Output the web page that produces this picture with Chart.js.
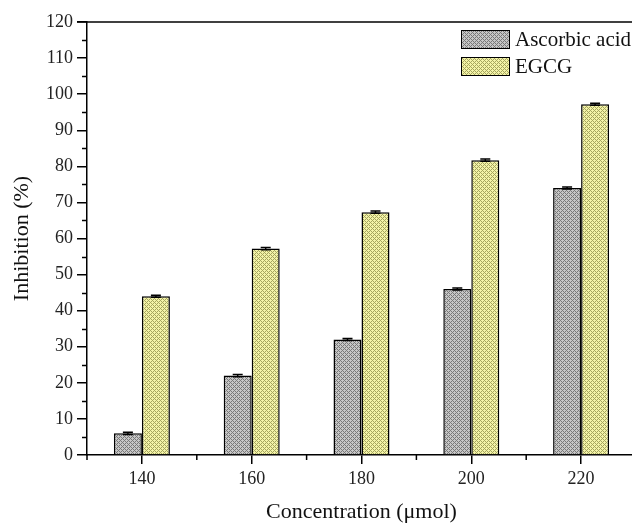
<!DOCTYPE html>
<html>
<head>
<meta charset="utf-8">
<script src="https://cdn.jsdelivr.net/npm/chart.js@4.4.1/dist/chart.umd.min.js"></script>
<style>
html,body{margin:0;padding:0;background:#fff;overflow:hidden;}
#wrap{width:640px;height:525px;position:relative;}
</style>
</head>
<body>
<div id="wrap"><canvas id="c"></canvas></div>
<script>
// ---- data ----
const categories = ['140', '160', '180', '200', '220'];
const ascorbicAcid = [6, 22, 32, 46, 74];
const ascorbicErr = [0.3, 0.3, 0.3, 0.3, 0.3];
const egcg = [44, 57.2, 67.3, 81.7, 97.2];
const egcgErr = [0.3, 0.3, 0.3, 0.3, 0.3];
const seriesNames = ['Ascorbic acid', 'EGCG'];
const yTicks = [0, 10, 20, 30, 40, 50, 60, 70, 80, 90, 100, 110, 120];

function makePattern(light, dark) {
  const c = document.createElement('canvas');
  c.width = 4; c.height = 4;
  const g = c.getContext('2d');
  g.fillStyle = light; g.fillRect(0, 0, 4, 4);
  g.fillStyle = dark;
  for (let x = 0; x < 4; x++) for (let y = 0; y < 4; y++) {
    if ((x + y) % 4 === 0 || ((x - y) % 4 + 4) % 4 === 0) g.fillRect(x, y, 1, 1);
  }
  return document.getElementById('c').getContext('2d').createPattern(c, 'repeat');
}
const grayPat = makePattern('#c6c6c6', '#787878');
const yellowPat = makePattern('#f3f3a8', '#a5a55e');

const FONT = "'Liberation Serif', 'Times New Roman', serif";

const extras = {
  id: 'extras',
  afterDatasetsDraw(chart) {
    const ctx = chart.ctx;
    const ca = chart.chartArea;
    const y = chart.scales.y, x = chart.scales.x;
    ctx.save();
    // error bars
    const errs = [ascorbicErr, egcgErr];
    chart.data.datasets.forEach((ds, di) => {
      const meta = chart.getDatasetMeta(di);
      meta.data.forEach((bar, i) => {
        const v = ds.data[i], e = errs[di][i];
        const yt = y.getPixelForValue(v + e), yb = y.getPixelForValue(v - e);
        ctx.strokeStyle = '#000'; ctx.lineWidth = 1.5;
        ctx.beginPath();
        ctx.moveTo(bar.x, yt); ctx.lineTo(bar.x, yb);
        ctx.moveTo(bar.x - 5, yt); ctx.lineTo(bar.x + 5, yt);
        ctx.moveTo(bar.x - 5, yb); ctx.lineTo(bar.x + 5, yb);
        ctx.stroke();
      });
    });
    // top border
    ctx.strokeStyle = '#000'; ctx.lineWidth = 1.5;
    ctx.beginPath();
    ctx.moveTo(ca.left - 10, ca.top); ctx.lineTo(chart.width, ca.top);
    ctx.stroke();
    // y axis stub below x axis
    ctx.beginPath(); ctx.moveTo(ca.left, ca.bottom); ctx.lineTo(ca.left, ca.bottom + 5); ctx.stroke();
    // minor y ticks
    for (let v = 5; v < 120; v += 10) {
      const py = Math.round(y.getPixelForValue(v)) + 0.5;
      ctx.beginPath(); ctx.moveTo(ca.left - 5, py); ctx.lineTo(ca.left, py); ctx.stroke();
    }
    // minor x ticks at category boundaries
    const step = x.getPixelForValue(1) - x.getPixelForValue(0);
    for (let i = 1; i <= categories.length; i++) {
      const px = x.getPixelForValue(i) - step / 2;
      ctx.beginPath(); ctx.moveTo(px, ca.bottom); ctx.lineTo(px, ca.bottom + 5); ctx.stroke();
    }
    // legend
    const lx = 461, ly = [30, 57], bw = 48, bh = 18;
    chart.data.datasets.forEach((ds, di) => {
      ctx.fillStyle = ds.backgroundColor;
      ctx.fillRect(lx, ly[di], bw, bh);
      ctx.strokeStyle = '#000'; ctx.lineWidth = 1;
      ctx.strokeRect(lx + 0.5, ly[di] + 0.5, bw, bh);
      ctx.fillStyle = '#111';
      ctx.font = '21px ' + FONT;
      ctx.textBaseline = 'middle';
      ctx.textAlign = 'left';
      ctx.fillText(ds.label, lx + bw + 6, ly[di] + bh / 2 + 1);
    });
    ctx.restore();
  }
};

new Chart(document.getElementById('c'), {
  type: 'bar',
  data: {
    labels: categories,
    datasets: [
      { label: seriesNames[0], data: ascorbicAcid, backgroundColor: grayPat, borderColor: '#000', borderWidth: 1.5 },
      { label: seriesNames[1], data: egcg, backgroundColor: yellowPat, borderColor: '#000', borderWidth: 1.5 }
    ]
  },
  options: {
    responsive: true,
    maintainAspectRatio: false,
    animation: false,
    devicePixelRatio: 1,
    layout: { padding: { left: 0, right: 4, top: 22, bottom: 0 } },
    datasets: { bar: { categoryPercentage: 0.51, barPercentage: 1.0 } },
    plugins: { legend: { display: false }, tooltip: { enabled: false } },
    scales: {
      x: {
        grid: { display: true, offset: false, drawOnChartArea: false, tickLength: 9, color: '#000', tickWidth: 1.5, lineWidth: 1.5 },
        border: { display: true, color: '#000', width: 1.5 },
        ticks: { color: '#222', font: { family: FONT, size: 18 }, padding: 4, maxRotation: 0 },
        title: { display: true, text: 'Concentration (μmol)', color: '#111', font: { family: FONT, size: 22 }, padding: { top: 0, bottom: 0 } },
        afterFit(s) { s.height = 70; }
      },
      y: {
        min: 0, max: 120,
        afterBuildTicks(s) { s.ticks = yTicks.map(v => ({ value: v })); },
        grid: { display: true, drawOnChartArea: false, tickLength: 10, color: '#000', tickWidth: 1.5, lineWidth: 1.5 },
        border: { display: true, color: '#000', width: 1.5 },
        ticks: { color: '#222', font: { family: FONT, size: 18 }, padding: 4 },
        title: { display: true, text: 'Inhibition (%)', color: '#111', font: { family: FONT, size: 22 }, padding: { top: 9, bottom: 0 } },
        afterFit(s) { s.width = 87; }
      }
    }
  },
  plugins: [extras]
});
</script>
</body>
</html>
